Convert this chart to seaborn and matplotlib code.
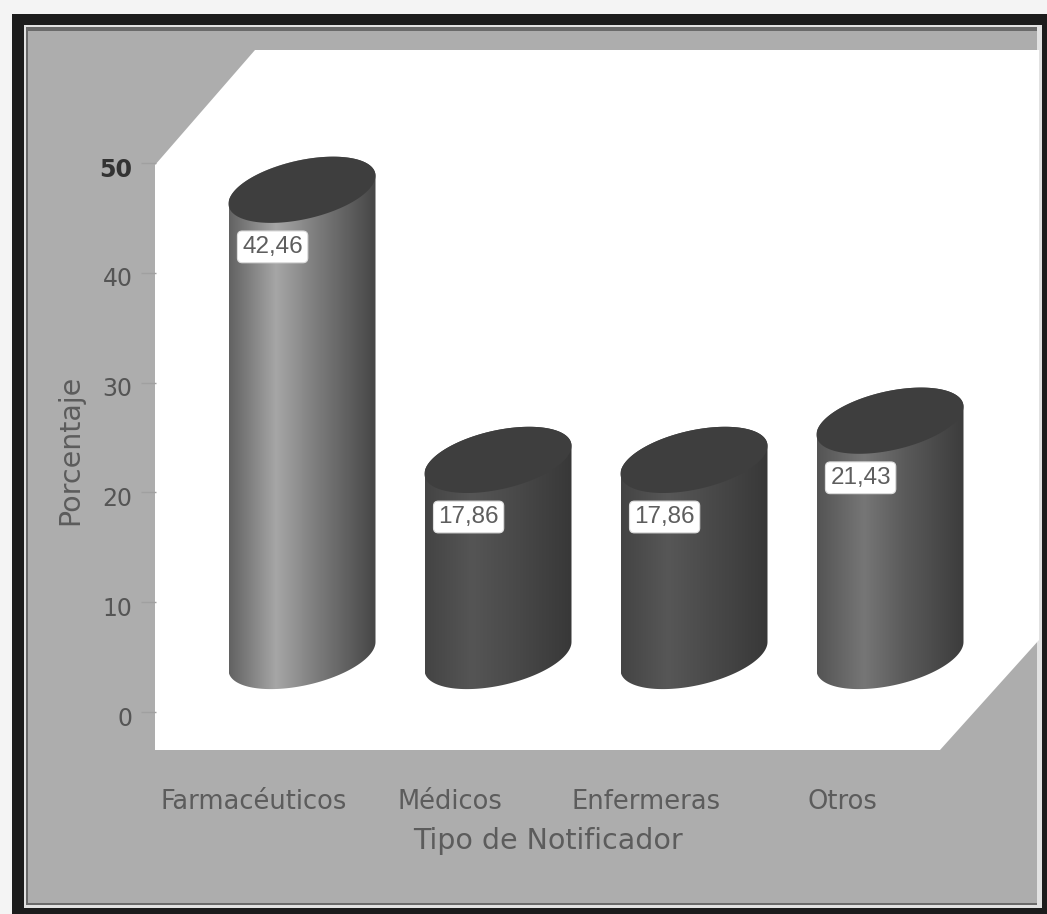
import numpy as np
import pandas as pd
import seaborn as sns
import matplotlib
matplotlib.use("Agg")
import matplotlib.pyplot as plt
from matplotlib.colors import LinearSegmentedColormap
from matplotlib.patches import Polygon, Rectangle
from matplotlib.transforms import ScaledTranslation

categories = ["Farmacéuticos", "Médicos", "Enfermeras", "Otros"]
percentages = [42.46, 17.86, 17.86, 21.43]
value_labels = ["42,46", "17,86", "17,86", "21,43"]
y_ticks = [0, 10, 20, 30, 40, 50]
x_title = "Tipo de Notificador"
y_title = "Porcentaje"
# greys: left edge, highlight, mid, right edge
body_greys = [
    ["#626262", "#a6a6a6", "#7c7c7c", "#464646"],
    ["#444444", "#555555", "#4a4a4a", "#383838"],
    ["#444444", "#575757", "#4a4a4a", "#383838"],
    ["#545454", "#767676", "#5a5a5a", "#3c3c3c"],
]
top_grey = "#3e3e3e"

W, H = 1047, 914
sns.set_theme(style="white")
plt.rcParams["font.family"] = ["Liberation Sans", "DejaVu Sans"]
fig = plt.figure(figsize=(W / 100, H / 100), dpi=100, facecolor="#f4f4f4")


def box(x0, y0, x1, y1):
    return [x0 / W, 1 - y1 / H, (x1 - x0) / W, (y1 - y0) / H]


def frame(x0, y0, x1, y1, color, z):
    fig.add_artist(Rectangle((x0 / W, 1 - y1 / H), (x1 - x0) / W, (y1 - y0) / H,
                             transform=fig.transFigure, fc=color, ec="none", zorder=z))


frame(12, 14, W, H, "#1c1c1c", -9)
frame(24, 25, 1042, 908, "#e2e2e2", -8)
frame(26, 27, 1037, 905, "#6a6a6a", -7)
frame(28, 31, 1037, 903, "#adadad", -6)
wall = [(155, 165), (255, 50), (1039, 50), (1039, 640), (940, 750), (155, 750)]
fig.add_artist(Polygon([(x / W, 1 - y / H) for x, y in wall], closed=True,
                       transform=fig.transFigure, fc="white", ec="none", zorder=-5))

# front plane carries the scales, back plane carries the cylinders
unit = 10.98
ax = fig.add_axes(box(156, 163, 940, 750))
ax.patch.set_alpha(0)
ax.set_xlim(-0.5, 3.5)
ax.set_ylim(-38 / unit, 50)
ax.set_xticks(range(4))
ax.set_xticklabels(categories, fontsize=18.5, color="#5c5c5c", family="DejaVu Sans")
ax.set_yticks(y_ticks)
ax.set_yticklabels([str(t) for t in y_ticks], fontsize=17, color="#555555", family="DejaVu Sans")
ax.get_yticklabels()[-1].set_color("#333333")
ax.get_yticklabels()[-1].set_fontweight("bold")
ax.tick_params(axis="y", left=True, length=11, width=1, color="#a0a0a0", pad=6)
ax.tick_params(axis="x", bottom=False, pad=22)
shift = ScaledTranslation(0, -4 / 100, fig.dpi_scale_trans)
for lab in ax.get_yticklabels():
    lab.set_transform(lab.get_transform() + shift)
ax.set_xlabel(x_title, fontsize=20.5, color="#5c5c5c", family="DejaVu Sans", labelpad=9)
ax.set_ylabel(y_title, fontsize=20.5, color="#5c5c5c", family="DejaVu Sans")
ax.yaxis.set_label_coords(-72 / 784, (750 - 450) / 587)
sns.despine(ax=ax, left=True, bottom=True)

back = fig.add_axes(box(204, 107, 988, 694))
back.patch.set_alpha(0)
df = pd.DataFrame({"Tipo": categories, "Porcentaje": percentages})
sns.barplot(data=df, x="Tipo", y="Porcentaje", ax=back, width=0.75, color="#555555", errorbar=None)
back.set_xlim(-0.5, 3.5)
back.set_ylim(-38 / unit, 50)
back.axis("off")

tilt = 14 / unit
minor = 30 / unit
grad = np.linspace(0, 1, 256)[None, :]
t_low = np.linspace(np.pi, 2 * np.pi, 80)
t_up = np.linspace(0, np.pi, 80)
for i, bar in enumerate(back.patches):
    x0, w, h = bar.get_x(), bar.get_width(), bar.get_height()
    cx, a = x0 + w / 2, w / 2
    bar.set_visible(False)
    low = np.c_[cx + a * np.cos(t_low), minor * np.sin(t_low) + tilt * np.cos(t_low)]
    up = np.c_[cx + a * np.cos(t_up), h + minor * np.sin(t_up) + tilt * np.cos(t_up)]
    shape = Polygon(np.r_[low, up], closed=True, transform=back.transData, fc="none", ec="none")
    back.add_patch(shape)
    cmap = LinearSegmentedColormap.from_list(
        f"cyl{i}", list(zip([0, 0.32, 0.6, 1], body_greys[i])))
    im = back.imshow(grad, cmap=cmap, aspect="auto", zorder=2,
                     extent=(x0, x0 + w, -minor - tilt, h + minor + tilt))
    im.set_clip_path(shape)
    t_full = np.linspace(0, 2 * np.pi, 160)
    back.add_patch(Polygon(np.c_[cx + a * np.cos(t_full),
                                 h + minor * np.sin(t_full) + tilt * np.cos(t_full)],
                           closed=True, fc=top_grey, ec="none", zorder=3))
    back.text(cx - 0.15, h - 5.2, value_labels[i], ha="center", va="center", fontsize=17.5,
              color="#5e5e5e", zorder=4,
              bbox=dict(boxstyle="round,pad=0.2", fc="white", ec="#dddddd", lw=0.8))
back.set_xlim(-0.5, 3.5)
back.set_ylim(-38 / unit, 50)

fig.savefig("out.png", dpi=100, facecolor=fig.get_facecolor())
